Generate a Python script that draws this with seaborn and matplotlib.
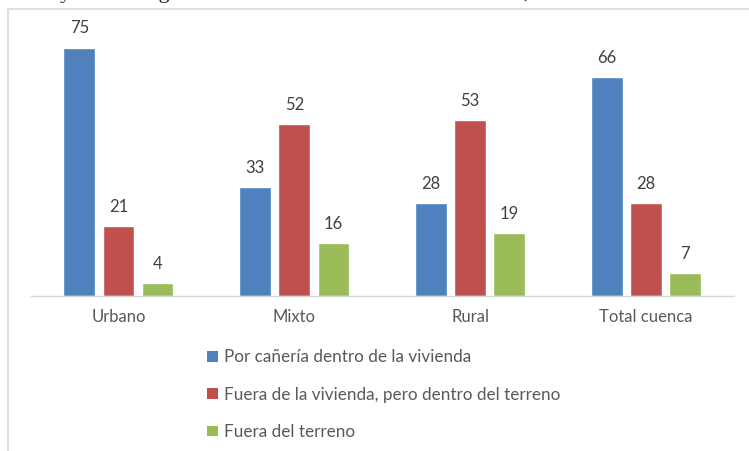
import matplotlib
matplotlib.use("Agg")
import matplotlib.pyplot as plt
import seaborn as sns
import pandas as pd
from matplotlib.patches import Rectangle, Patch

categories = ["Urbano", "Mixto", "Rural", "Total cuenca"]
series_names = [
    "Por cañería dentro de la vivienda",
    "Fuera de la vivienda, pero dentro del terreno",
    "Fuera del terreno",
]
por_caneria = [75, 33, 28, 66]
fuera_vivienda = [21, 52, 53, 28]
fuera_terreno = [4, 16, 19, 7]
colors = ["#4F81BD", "#C0504D", "#9BBB59"]

rows = []
for name, vals in zip(series_names, [por_caneria, fuera_vivienda, fuera_terreno]):
    for c, v in zip(categories, vals):
        rows.append({"cat": c, "serie": name, "valor": v})
df = pd.DataFrame(rows)

sns.set_theme(style="white")
plt.rcParams["font.family"] = ["Lato", "DejaVu Sans"]

W, H = 749, 451
fig = plt.figure(figsize=(W / 100, H / 100), dpi=100)
ax = fig.add_axes([30.5 / W, 1 - 296 / H, (734 - 30.5) / W, (296 - 31) / H])

sns.barplot(data=df, x="cat", y="valor", hue="serie", order=categories,
            hue_order=series_names, palette=colors, width=0.668, gap=0.19,
            saturation=1, ax=ax, legend=False)

for cont in ax.containers:
    ax.bar_label(cont, padding=8, fontsize=12, color="#404040")

ax.set_xlim(-0.5, 3.5)
ax.set_ylim(0, 80)
ax.set_xlabel("")
ax.set_ylabel("")
ax.set_yticks([])
for s in ["top", "left", "right"]:
    ax.spines[s].set_visible(False)
ax.spines["bottom"].set_color("#D9D9D9")
ax.spines["bottom"].set_linewidth(1.0)
ax.tick_params(axis="x", length=0, pad=9, labelsize=12, labelcolor="#595959")

handles = [Patch(facecolor=c, edgecolor="none") for c in colors]
leg = fig.legend(handles, series_names, loc="upper left",
                 bbox_to_anchor=(192 / W, 1 - 334 / H), frameon=False,
                 fontsize=12.3, labelcolor="#595959", handlelength=0.6,
                 handleheight=0.6, handletextpad=0.35, labelspacing=1.25)

# chart border (cropped on right and bottom)
fig.patches.append(Rectangle((8 / W, -0.05), 1.2, 1 - 9 / H + 0.05,
                             transform=fig.transFigure, fill=False,
                             edgecolor="#D9D9D9", linewidth=1.2))

# cropped text line from surrounding document
fig.text(28 / W, 1 + 2 / H, "ocoy ocon a lugar incluidos en el interior de la vivienda, en el caso de la",
         fontsize=16, family="Liberation Serif", color="#222222", va="baseline")

fig.savefig("out.png", dpi=100)
